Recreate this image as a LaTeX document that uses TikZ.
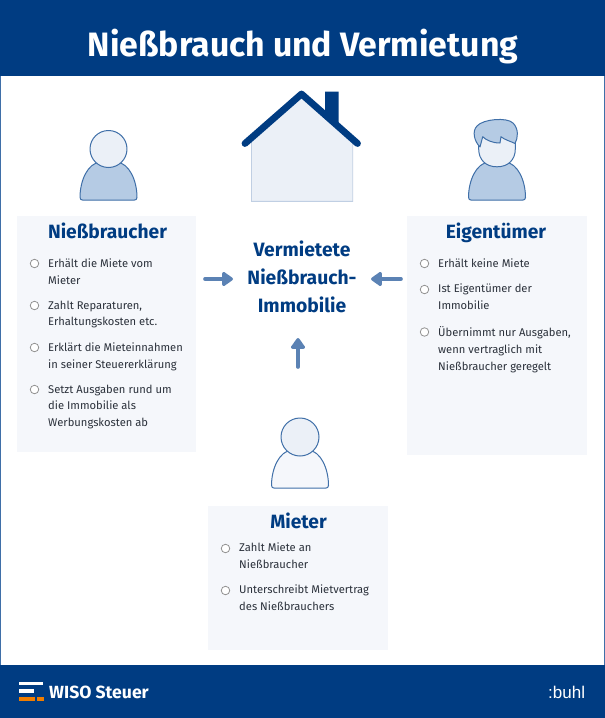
\documentclass[tikz,border=0pt]{standalone}
\usepackage{fontspec}
\setmainfont{Fira Sans}
\newfontfamily\buhlfont{Liberation Sans}
\usetikzlibrary{arrows.meta}
\definecolor{navy}{HTML}{003C82}
\definecolor{midblue}{HTML}{5B82B4}
\definecolor{lineblue}{HTML}{3F6FA8}
\definecolor{bodyblue}{HTML}{B5CBE4}
\definecolor{headblue}{HTML}{EBF0F7}
\definecolor{panel}{HTML}{F5F7FB}
\definecolor{wall}{HTML}{C0CFE3}
\definecolor{orangebar}{HTML}{F07D00}
\definecolor{txt}{HTML}{2B313B}
\tikzset{
  x=1pt,y=-1pt,
  bandbox/.style={fill=navy,draw=none},
  panelbox/.style={fill=panel,draw=none},
  heading/.style={font=\fontsize{19.2}{19}\selectfont\bfseries\color{navy},inner sep=0pt,anchor=base},
  center title/.style={font=\fontsize{19.3}{28}\selectfont\bfseries\color{navy},inner sep=0pt,align=center,anchor=center},
  item/.style={font=\fontsize{11.2}{16.8}\selectfont\color{txt},inner sep=0pt,align=left,anchor=north west},
  bullet/.style={circle,draw=gray!85,fill=white,line width=.8pt,minimum size=8.5pt,inner sep=0pt},
  flow/.style={draw=midblue,line width=3.6pt,line cap=round,-{Triangle[length=12pt,width=16pt,round]}},
  figure line/.style={draw=lineblue,line width=1pt,line join=round},
}
\newcommand{\personbody}[3]{% cx, cy, fill
  \path[figure line,fill=#3] (#1-28.5,#2+48.5) .. controls (#1-28.5,#2+32) and (#1-21,#2+14) .. (#1-8,#2+13)
    -- (#1+8,#2+13) .. controls (#1+21,#2+14) and (#1+28.5,#2+32) .. (#1+28.5,#2+48.5)
    .. controls (#1+28.5,#2+50.5) and (#1+27,#2+51) .. (#1+26,#2+51)
    -- (#1-26,#2+51) .. controls (#1-27,#2+51) and (#1-28.5,#2+50.5) .. (#1-28.5,#2+48.5) -- cycle;
}
\begin{document}
\begin{tikzpicture}
\useasboundingbox (0,0) rectangle (605,718);
\fill[white] (0,0) rectangle (605,718);
\draw[lineblue,line width=1pt] (.5,76) -- (.5,665) (604.5,76) -- (604.5,665);
% bands
\path[bandbox] (0,0) rectangle (605,76);
\path[bandbox] (0,665) rectangle (605,718);
\node[font=\fontsize{33.8}{35}\selectfont\bfseries,text=white,inner sep=0pt] (title) at (303,46.5) {Nießbrauch und Vermietung};
% panels
\path[panelbox] (17,216) rectangle (196,452);
\path[panelbox] (407,216) rectangle (587,455);
\path[panelbox] (208,506) rectangle (388,650);
% house
\path[fill=headblue,draw=wall,line width=.9pt] (251.5,140) -- (301.5,94) -- (352.7,140) -- (352.7,201.3) -- (251.5,201.3) -- cycle;
\fill[navy] (325,91.7) -- (338.7,91.7) -- (338.7,126) -- (325,114) -- cycle;
\draw[navy,line width=6.8pt,line cap=round,line join=round] (245,143.5) -- (301.5,94) -- (357.5,143.5);
% persons
\personbody{108.5}{149}{bodyblue}
\draw[figure line,fill=headblue] (108.5,149) circle (18.5);
\personbody{497}{149}{bodyblue}
\path[figure line,fill=headblue] (478.7,135) -- (478.7,149) .. controls (478.7,160) and (486,166.8) .. (497,166.8) .. controls (508,166.8) and (515.3,160) .. (515.3,149) -- (515.3,135) -- cycle;
\path[figure line,fill=bodyblue] (480,147) .. controls (474,141) and (472,131) .. (477,126) .. controls (483,119) and (507,117) .. (513,123) .. controls (519,129) and (518,138) .. (515,143.5) .. controls (510,141) and (505,140) .. (501,136.7) -- (500,143) .. controls (492,143) and (486,140) .. (482.7,136.7) -- cycle;
\personbody{300}{437}{panel}
\draw[figure line,fill=headblue] (300,437) circle (19);
% headings
\node[heading] (h1) at (107.5,238) {Nießbraucher};
\node[heading] (h2) at (496,238) {Eigentümer};
\node[heading] (h3) at (298.5,528) {Mieter};
\node[center title] (center) at (302,276.5) {Vermietete\\Nießbrauch-\\Immobilie};
% flows
\coordinate (fa) at (205,279); \coordinate (fb) at (233,279);
\coordinate (fc) at (401,279); \coordinate (fd) at (371,279);
\coordinate (fe) at (298,367); \coordinate (ff) at (298,338);
\draw[flow] (fa) -- (fb);
\draw[flow] (fc) -- (fd);
\draw[flow] (fe) -- (ff);
% left list
\node[bullet] (b11) at (34.5,263.5) {};
\node[item] (t11) at (48,258.5) {Erhält die Miete vom\\Mieter};
\node[bullet] (b12) at (34.5,305.5) {};
\node[item] (t12) at (48,300.5) {Zahlt Reparaturen,\\Erhaltungskosten etc.};
\node[bullet] (b13) at (34.5,347.5) {};
\node[item] (t13) at (48,342.5) {Erklärt die Mieteinnahmen\\in seiner Steuererklärung};
\node[bullet] (b14) at (34.5,389.5) {};
\node[item] (t14) at (48,384.5) {Setzt Ausgaben rund um\\die Immobilie als\\Werbungskosten ab};
% right list
\node[bullet] (b21) at (424.5,263.5) {};
\node[item] (t21) at (438,258.5) {Erhält keine Miete};
\node[bullet] (b22) at (424.5,289.5) {};
\node[item] (t22) at (438,284) {Ist Eigentümer der\\Immobilie};
\node[bullet] (b23) at (424.5,332) {};
\node[item] (t23) at (438,326.5) {Übernimmt nur Ausgaben,\\wenn vertraglich mit\\Nießbraucher geregelt};
% bottom list
\node[bullet] (b31) at (225.5,548.5) {};
\node[item] (t31) at (239,543) {Zahlt Miete an\\Nießbraucher};
\node[bullet] (b32) at (225.5,590.5) {};
\node[item] (t32) at (239,585) {Unterschreibt Mietvertrag\\des Nießbrauchers};
% footer
\fill[white] (19,681.5) rectangle (43,685);
\fill[white] (19,689) rectangle (34,693);
\fill[orangebar] (19,697) rectangle (35,701);
\fill[orangebar] (37,697) rectangle (43.5,701);
\node[font=\fontsize{17.6}{19}\selectfont\bfseries,text=white,inner sep=0pt,anchor=west] (wiso) at (49,692) {WISO Steuer};
\node[font=\buhlfont\fontsize{17}{17}\selectfont,text=white,inner sep=0pt,anchor=west] (buhl) at (548,692) {:buhl};
\end{tikzpicture}
\end{document}
